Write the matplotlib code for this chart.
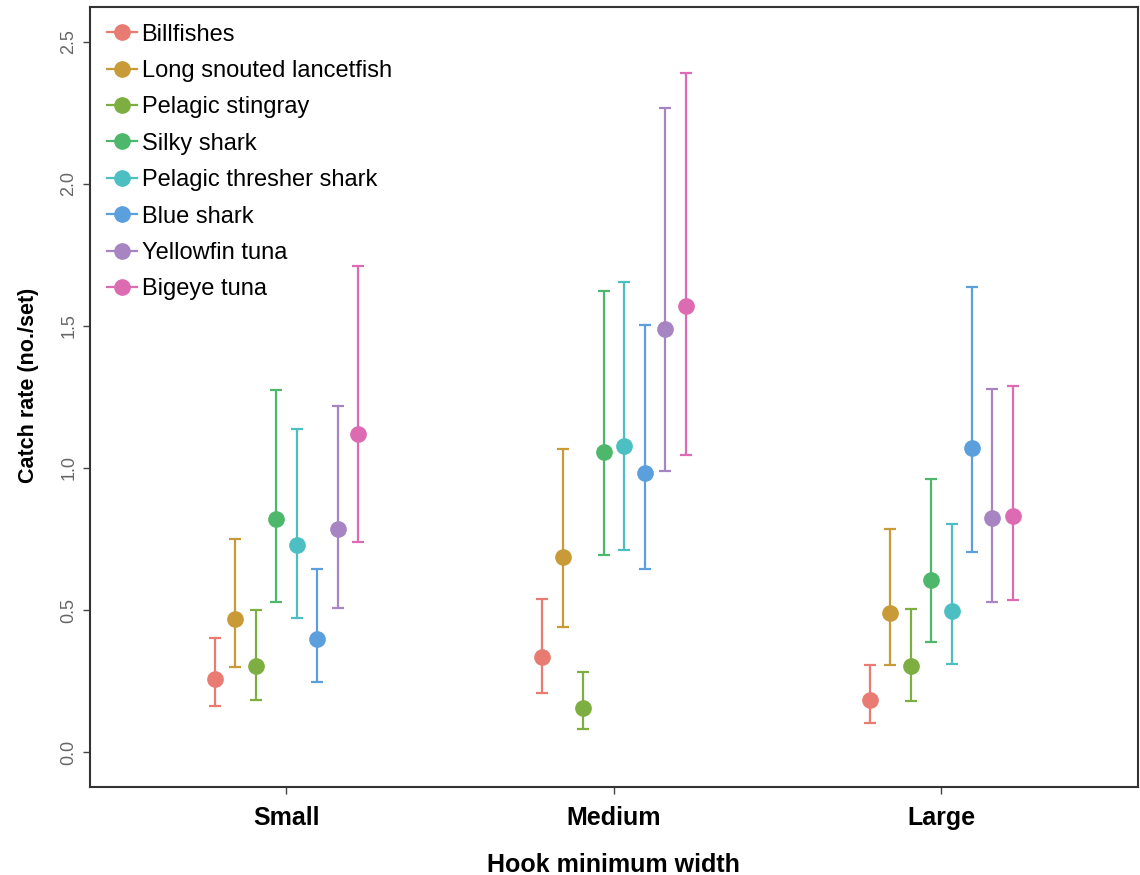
import numpy as np
import matplotlib.pyplot as plt

plt.rcParams['font.family'] = ['Liberation Sans', 'DejaVu Sans']

# hook size groups
groups = ['Small', 'Medium', 'Large']
species = ['Billfishes', 'Long snouted lancetfish', 'Pelagic stingray', 'Silky shark',
           'Pelagic thresher shark', 'Blue shark', 'Yellowfin tuna', 'Bigeye tuna']

# catch rate estimates per species, one value per group (Small, Medium, Large)
billfishes = [0.257, 0.336, 0.182]
lancetfish = [0.468, 0.685, 0.488]
stingray = [0.303, 0.155, 0.302]
silky = [0.822, 1.057, 0.606]
thresher = [0.729, 1.077, 0.495]
blue = [0.397, 0.981, 1.069]
yellowfin = [0.786, 1.489, 0.824]
bigeye = [1.119, 1.570, 0.830]

# lower / upper confidence limits
billfishes_lo = [0.162, 0.208, 0.103]
billfishes_hi = [0.402, 0.539, 0.307]
lancetfish_lo = [0.299, 0.439, 0.307]
lancetfish_hi = [0.750, 1.068, 0.785]
stingray_lo = [0.182, 0.081, 0.181]
stingray_hi = [0.499, 0.282, 0.502]
silky_lo = [0.529, 0.694, 0.386]
silky_hi = [1.273, 1.623, 0.961]
thresher_lo = [0.471, 0.712, 0.309]
thresher_hi = [1.137, 1.655, 0.803]
blue_lo = [0.245, 0.644, 0.703]
blue_hi = [0.645, 1.505, 1.638]
yellowfin_lo = [0.508, 0.989, 0.529]
yellowfin_hi = [1.217, 2.266, 1.277]
bigeye_lo = [0.739, 1.045, 0.534]
bigeye_hi = [1.712, 2.390, 1.289]

est = [billfishes, lancetfish, stingray, silky, thresher, blue, yellowfin, bigeye]
lo = [billfishes_lo, lancetfish_lo, stingray_lo, silky_lo, thresher_lo, blue_lo, yellowfin_lo, bigeye_lo]
hi = [billfishes_hi, lancetfish_hi, stingray_hi, silky_hi, thresher_hi, blue_hi, yellowfin_hi, bigeye_hi]

colors = ['#E87B72', '#C99A38', '#7DAE41', '#4DB86B', '#4CBFC3', '#5C9FDD', '#A685C2', '#DD6BB1']

fig = plt.figure(figsize=(11.4, 8.75), dpi=100)
ax = fig.add_axes([0.079, 0.1006, 0.919, 0.8914])

x = np.arange(1, len(groups) + 1)
n = len(species)
dodge = 0.5 / n
for i in range(n):
    xs = x + (i - (n - 1) / 2) * dodge
    y = np.array(est[i])
    yerr = [y - np.array(lo[i]), np.array(hi[i]) - y]
    ax.errorbar(xs, y, yerr=yerr, fmt='none', ecolor=colors[i], elinewidth=1.6,
                capsize=4.5, capthick=1.6)
    ax.plot(xs, y, 'o', color=colors[i], markersize=11, label=species[i])

# legend handles look like line + dot
handles = [plt.Line2D([], [], color=c, marker='o', markersize=11, linewidth=1.6) for c in colors]
ax.legend(handles, species, loc='upper left', bbox_to_anchor=(0.0, 1.0), frameon=False,
          fontsize=17, handlelength=1.3, handletextpad=0.18, labelspacing=0.61,
          borderaxespad=0.3)

ax.set_xlim(0.4, 3.6)
ax.set_ylim(-0.123, 2.623)
ax.set_xticks(x)
ax.set_xticklabels(groups, fontsize=18, fontweight='bold')
ax.set_yticks([0.0, 0.5, 1.0, 1.5, 2.0, 2.5])
ax.set_yticklabels(['0.0', '0.5', '1.0', '1.5', '2.0', '2.5'], rotation=90,
                   va='center', fontsize=13, color='#666666')
ax.tick_params(axis='both', length=5, width=1, color='#444444')
ax.tick_params(axis='x', pad=9)
ax.tick_params(axis='y', pad=4)

ax.set_xlabel('Hook minimum width', fontsize=18, fontweight='bold', labelpad=16)
ax.set_ylabel('Catch rate (no./set)', fontsize=15.5, fontweight='bold')
ax.yaxis.set_label_coords(-0.049, 0.515)

for s in ax.spines.values():
    s.set_linewidth(1.5)
    s.set_color('#333333')

fig.savefig('out.png', dpi=100)
